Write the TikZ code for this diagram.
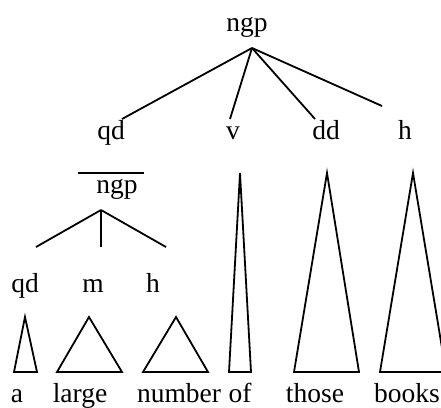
\documentclass[tikz,border=0pt]{standalone}
\usepackage{fontspec}
\setmainfont{Liberation Serif}
\begin{document}
\begin{tikzpicture}[x=1pt,y=-1pt,
  lbl/.style={anchor=base,inner sep=0pt,font=\fontsize{27.5}{30}\selectfont},
  br/.style={line width=1.8pt},
  tri/.style={line width=1.8pt,line join=miter}]
\useasboundingbox (0,0) rectangle (441,407);
% top level
\node[lbl] (ngp) at (247,31) {ngp};
\coordinate (top) at (252,48);
\node[lbl] (qd) at (111,139) {qd};
\node[lbl] (v) at (233,139) {v};
\node[lbl] (dd) at (326,139) {dd};
\node[lbl] (h) at (405,139) {h};
\coordinate (eqd) at (122,119);
\coordinate (ev) at (230,119);
\coordinate (edd) at (315,119);
\coordinate (eh) at (382,106);
\draw[br] (top) -- (eqd);
\draw[br] (top) -- (ev);
\draw[br] (top) -- (edd);
\draw[br] (top) -- (eh);
% sub ngp
\coordinate (ol1) at (78,173);
\coordinate (ol2) at (144,173);
\draw[line width=1.4pt] (ol1) -- (ol2);
\node[lbl] (ngp2) at (117,193) {ngp};
\coordinate (top2) at (101,210);
\coordinate (e2qd) at (36,247);
\coordinate (e2m) at (101,247);
\coordinate (e2h) at (166,247);
\draw[br] (top2) -- (e2qd);
\draw[br] (top2) -- (e2m);
\draw[br] (top2) -- (e2h);
\node[lbl] (qd2) at (25,292) {qd};
\node[lbl] (m2) at (93,292) {m};
\node[lbl] (h2) at (153,292) {h};
% triangles
\coordinate (ta) at (25,317);
\draw[tri] (ta) -- (37,372) -- (14,372) -- cycle;
\coordinate (tl) at (89,317);
\draw[tri] (tl) -- (122,372) -- (57,372) -- cycle;
\coordinate (tn) at (176,317);
\draw[tri] (tn) -- (208,372) -- (143,372) -- cycle;
\coordinate (to) at (240,173);
\draw[tri] (to) -- (251,372) -- (229,372) -- cycle;
\coordinate (tt) at (327,173);
\draw[tri] (tt) -- (359,372) -- (294,372) -- cycle;
\coordinate (tb) at (413,173);
\draw[tri] (tb) -- (446,372) -- (380,372) -- cycle;
% words
\node[lbl] (wa) at (17,402) {a};
\node[lbl] (wl) at (80,402) {large};
\node[lbl] (wn) at (179,402) {number};
\node[lbl] (wo) at (240,402) {of};
\node[lbl] (wt) at (315,402) {those};
\node[lbl] (wb) at (407,402) {books};
\end{tikzpicture}
\end{document}
